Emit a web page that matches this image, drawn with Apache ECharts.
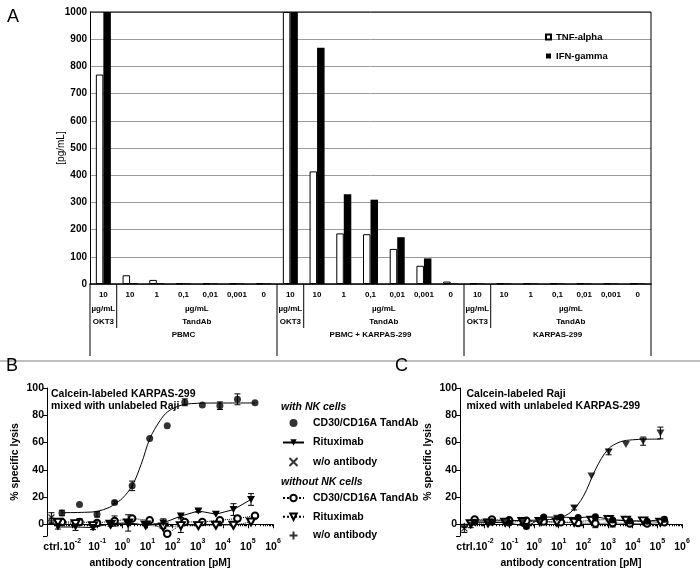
<!DOCTYPE html>
<html><head><meta charset="utf-8">
<script src="https://cdn.jsdelivr.net/npm/echarts@6/dist/echarts.min.js"></script>
<style>html,body{margin:0;padding:0;background:#fff}#c{width:700px;height:578px}</style>
</head><body><div id="c"></div>
<script>
// ---------- Panel A data ----------
const aConc = ['10','10','1','0,1','0,01','0,001','0','10','10','1','0,1','0,01','0,001','0','10','10','1','0,1','0,01','0,001','0'];
const aTnfAlpha = [770,32,15,2,2,2,2, 1000,414,186,183,129,67,9, 2,2,2,2,2,2,2];
const aIfnGamma = [1000,3,3,2,2,2,2, 1000,869,330,310,172,94,2, 2,2,2,2,2,2,2];
const aAntibody = ['OKT3','TandAb'];
const aAntibodyCount = [1,6];
const aUnit = 'µg/mL';
const aGroups = ['PBMC','PBMC + KARPAS-299','KARPAS-299'];

// ---------- Panels B / C data (concentrations in pM) ----------
const ctrlConc = 0.0015;
const tandConc = [0.00393,0.0197,0.0983,0.4915,2.458,12.29,61.44,307.2,1536,7680,38400,192000];
const ritConc  = [0.00273,0.01365,0.0683,0.3413,1.707,8.533,42.67,213.3,1067,5333,26667,133333];

// B: Calcein-labeled KARPAS-299 + unlabeled Raji
const bTandNK    = [8.3,14.5,7.3,16,28.2,63,72.3,89.5,87.5,87,91.7,89.2];
const bTandNKErr = [2,0,2,1,3.5,0,0,2.5,0,2.8,4,0];
const bRitNK     = [-2,-2,-2.4,0.5,1,-0.7,1,6,9.8,7.4,10.8,18.2];
const bRitNKErr  = [1.5,2.5,1.5,2,6,0.5,3,1,1,0.5,4.3,4.3];
const bTandNoNK    = [1.7,1.7,1,2.4,4.2,3,-7,1.7,1.7,3,4.2,6.3];
const bTandNoNKErr = [1,2.5,0.5,3.7,1.5,0.5,1.5,0.5,0.5,1,2,0.5];
const bRitNoNK    = [1.5,0.5,-1,0,1,-0.5,-2,-1,-1,-0.7,-0.7,1.7];
const bRitNoNKErr = [0.5,0.5,0.5,0.5,0.5,0.5,1,5,0.5,0.5,0.5,0.5];
const bCtrlNK = 5, bCtrlNKErr = 3.5, bCtrlNoNK = 2.5, bCtrlNoNKErr = 2;
const bFitX = [0.00393,0.0316,0.1,0.316,0.5,1,2.5,5.62,12.6,31.6,63.1,158,316,1000,10000,192000];
const bFitY = [8.5,8.8,9.5,12.5,15,19,28.5,44,63,76,82.5,86.5,88,88.8,89,89];

// C: Calcein-labeled Raji + unlabeled KARPAS-299
const cTandNK    = [1.5,1.5,1,-1.7,5.3,5.2,4.9,5.6,3.2,2.4,2.2,3.7];
const cTandNKErr = [1,1,1,1,1,1,1,1,1,1,1,1.5];
const cRitNK     = [-0.5,1.5,1,1.5,2.5,4.5,12,35.5,53,58.5,61,67];
const cRitNKErr  = [2,1,1,1,1,1,1.5,0.5,2,0.5,3,4.3];
const cTandNoNK    = [3.5,3.5,3,2.5,2,1.5,1,0.5,1,0.5,0.5,1.5];
const cTandNoNKErr = [0.5,0.5,0.5,0.5,0.5,1,1,3,3,0.5,0.5,0.5];
const cRitNoNK    = [0.5,1,1.5,2,2,1.5,1.5,3,3.5,3,2.5,1.5];
const cRitNoNKErr = [0.5,0.5,0.5,0.5,0.5,0.5,0.5,1,1,0.5,0.5,0.5];
const cCtrlNK = -3, cCtrlNKErr = 3, cCtrlNoNK = -1.5, cCtrlNoNKErr = 1;
const cFitX = [0.00273,0.1,1,3.16,10,31.6,100,316,1000,3160,10000,31600,133333];
const cFitY = [2.5,2.6,3.0,3.3,4.6,9.0,20.5,40.5,55,60.5,62,62.4,62.5];

// ---------- helpers ----------
const F = '"Liberation Sans", Arial, sans-serif';
const pts = (xs, ys) => xs.map((x, i) => [x, ys[i]]);
const N1 = 'CD30/CD16A TandAb', N2 = 'Rituximab', N3 = 'w/o antibody', Z = '\u200b';
const cross = 'path://M0,0L10,10M10,0L0,10';
const plus = 'path://M5,0L5,10M0,5L10,5';
const blk = '#000';

function errSeries(ax, xs, ys, es) {
  const data = [];
  xs.forEach((x, i) => { if (es[i] > 0.9) data.push([x, ys[i] - es[i], ys[i] + es[i]]); });
  return {
    type: 'custom', xAxisIndex: ax, yAxisIndex: ax, silent: true, z: 3, data,
    encode: { x: 0, y: [1, 2] },
    renderItem: (p, api) => {
      const x = api.value(0);
      const lo = api.coord([x, api.value(1)]), hi = api.coord([x, api.value(2)]);
      const w = 3, st = { stroke: blk, lineWidth: 1 };
      return { type: 'group', children: [
        { type: 'line', shape: { x1: lo[0], y1: lo[1], x2: hi[0], y2: hi[1] }, style: st },
        { type: 'line', shape: { x1: lo[0] - w, y1: lo[1], x2: lo[0] + w, y2: lo[1] }, style: st },
        { type: 'line', shape: { x1: hi[0] - w, y1: hi[1], x2: hi[0] + w, y2: hi[1] }, style: st }
      ]};
    }
  };
}

function panel(ax, d) {
  const s = [];
  s.push({ name: '_fit' + ax, type: 'line', xAxisIndex: ax, yAxisIndex: ax, data: pts(d.fitX, d.fitY),
    smooth: 0.35, showSymbol: false, silent: true, lineStyle: { color: blk, width: 1 }, z: 2 });
  // with NK cells
  s.push(d.tandFit
    ? { name: N1, type: 'scatter', xAxisIndex: ax, yAxisIndex: ax, data: pts(tandConc, d.tandNK), symbol: 'circle', symbolSize: 7, itemStyle: { color: blk }, z: 5 }
    : { name: N1, type: 'line', xAxisIndex: ax, yAxisIndex: ax, data: pts(tandConc, d.tandNK), symbol: 'circle', symbolSize: 7, itemStyle: { color: blk }, lineStyle: { color: blk, width: 1 }, z: 5 });
  s.push(d.tandFit
    ? { name: N2, type: 'line', xAxisIndex: ax, yAxisIndex: ax, data: pts(ritConc, d.ritNK), symbol: 'triangle', symbolRotate: 180, symbolSize: [8, 7], itemStyle: { color: blk }, lineStyle: { color: blk, width: 1 }, z: 5 }
    : { name: N2, type: 'scatter', xAxisIndex: ax, yAxisIndex: ax, data: pts(ritConc, d.ritNK), symbol: 'triangle', symbolRotate: 180, symbolSize: [8, 7], itemStyle: { color: blk }, z: 5 });
  s.push({ name: N3, type: 'scatter', xAxisIndex: ax, yAxisIndex: ax, data: [[ctrlConc, d.ctrlNK]], symbol: cross, symbolSize: 6,
    itemStyle: { color: blk, borderColor: blk, borderWidth: 1.2 }, z: 5 });
  // without NK cells
  s.push({ name: N1 + Z, type: 'line', xAxisIndex: ax, yAxisIndex: ax, data: pts(tandConc, d.tandNoNK), symbol: 'emptyCircle', symbolSize: 6.5,
    itemStyle: { color: blk, borderWidth: 1 }, lineStyle: { color: blk, width: 1, type: 'dotted' }, z: 4 });
  s.push({ name: N2 + Z, type: 'line', xAxisIndex: ax, yAxisIndex: ax, data: pts(ritConc, d.ritNoNK), symbol: 'emptyTriangle', symbolRotate: 180, symbolSize: [8, 7],
    itemStyle: { color: blk, borderWidth: 1 }, lineStyle: { color: blk, width: 1, type: 'dotted' }, z: 4 });
  s.push({ name: N3 + Z, type: 'scatter', xAxisIndex: ax, yAxisIndex: ax, data: [[ctrlConc, d.ctrlNoNK]], symbol: plus, symbolSize: 7,
    itemStyle: { color: blk, borderColor: blk, borderWidth: 1.2 }, z: 5 });
  // error bars
  s.push(errSeries(ax, tandConc, d.tandNK, d.tandNKErr));
  s.push(errSeries(ax, ritConc, d.ritNK, d.ritNKErr));
  s.push(errSeries(ax, tandConc, d.tandNoNK, d.tandNoNKErr));
  s.push(errSeries(ax, ritConc, d.ritNoNK, d.ritNoNKErr));
  s.push(errSeries(ax, [ctrlConc, ctrlConc], [d.ctrlNK, d.ctrlNoNK], [d.ctrlNKErr, d.ctrlNoNKErr]));
  return s;
}

const logX = (gi) => ({
  type: 'log', logBase: 10, gridIndex: gi, min: 0.001, max: 1000000,
  axisLine: { lineStyle: { color: blk, width: 1 } },
  axisTick: { length: 4, lineStyle: { color: blk } },
  minorTick: { show: true, splitNumber: 9, length: 2, lineStyle: { color: blk, width: 1 } },
  splitLine: { show: false },
  axisLabel: {
    margin: 2, color: blk,
    formatter: v => { const e = Math.round(Math.log10(v)); return e <= -3 ? '{c|ctrl.}' : '{b|10}{s|' + e + '}'; },
    rich: {
      b: { fontFamily: F, fontWeight: 'bold', fontSize: 10.5, color: blk, lineHeight: 15, verticalAlign: 'bottom' },
      s: { fontFamily: F, fontWeight: 'bold', fontSize: 7, color: blk, lineHeight: 9, verticalAlign: 'top' },
      c: { fontFamily: F, fontWeight: 'bold', fontSize: 10.5, color: blk, lineHeight: 15, verticalAlign: 'bottom', padding: [0, 0, 0, 12] }
    }
  },
  name: 'antibody concentration [pM]', nameLocation: 'middle', nameGap: 22, nameMoveOverlap: false,
  nameTextStyle: { fontFamily: F, fontWeight: 'bold', fontSize: 10.5, color: blk }
});
const pctY = (gi) => ({
  type: 'value', gridIndex: gi, min: -8.6, max: 100, splitNumber: 5,
  axisLine: { show: true, lineStyle: { color: blk, width: 1 } },
  axisTick: { show: true, length: 4, lineStyle: { color: blk } },
  splitLine: { show: false },
  axisLabel: { margin: 3, fontFamily: F, fontWeight: 'bold', fontSize: 10.5, color: blk,
    formatter: v => (Math.abs(v % 20) < 1e-6 ? String(v) : '') },
  name: '% specific lysis', nameLocation: 'middle', nameGap: 26, nameMoveOverlap: false,
  nameTextStyle: { fontFamily: F, fontWeight: 'bold', fontSize: 10.5, color: blk }
});

const legTxt = { fontFamily: F, fontWeight: 'bold', fontSize: 10.5, color: blk, lineHeight: 14, padding: [0, 0, 0, 4] };

const chart = echarts.init(document.getElementById('c'));
const option = {
  animation: false,
  backgroundColor: '#fff',
  grid: [
    { left: 90, top: 12, width: 561, height: 272 },
    { left: 47, top: 388, width: 226, height: 148 },
    { left: 460, top: 388, width: 222, height: 148 }
  ],
  xAxis: [
    { type: 'category', gridIndex: 0, data: aConc,
      axisLine: { lineStyle: { color: blk, width: 1.5 } },
      axisTick: { length: 17, lineStyle: { color: blk, width: 1 } },
      axisLabel: { interval: 0, margin: 7, fontFamily: F, fontWeight: 'bold', fontSize: 8, color: blk } },
    logX(1), logX(2)
  ],
  yAxis: [
    { type: 'value', gridIndex: 0, min: 0, max: 1000, interval: 100,
      axisLine: { show: true, lineStyle: { color: blk, width: 1 } },
      axisTick: { show: false },
      splitLine: { lineStyle: { color: '#9a9a9a', width: 1 } },
      axisLabel: { margin: 3, fontFamily: F, fontWeight: 'bold', fontSize: 10, color: blk, formatter: v => String(v) },
      name: '[pg/mL]', nameLocation: 'middle', nameGap: 24, nameMoveOverlap: false,
      nameTextStyle: { fontFamily: F, fontSize: 10, color: blk } },
    pctY(1), pctY(2)
  ],
  legend: [
    { data: ['TNF-alpha', 'IFN-gamma'], orient: 'vertical', left: 540, top: 26, icon: 'rect',
      itemWidth: 5, itemHeight: 5, itemGap: 7, selectedMode: false,
      textStyle: { fontFamily: F, fontWeight: 'bold', fontSize: 9.5, color: blk, lineHeight: 12 } },
    { data: [N1, N2, N3], orient: 'vertical', left: 277, top: 411, itemWidth: 21, itemHeight: 8, itemGap: 5.5, selectedMode: false,
      formatter: n => n.replace(Z, ''), textStyle: legTxt },
    { data: [N1 + Z, N2 + Z, N3 + Z],
      orient: 'vertical', left: 277, top: 486, itemWidth: 21, itemHeight: 8, itemGap: 4.7, selectedMode: false,
      formatter: n => n.replace(Z, ''), textStyle: legTxt }
  ],
  series: [
    { name: 'TNF-alpha', type: 'bar', xAxisIndex: 0, yAxisIndex: 0, data: aTnfAlpha, barWidth: 7.5, barGap: '0%',
      itemStyle: { color: '#fff', borderColor: blk, borderWidth: 1 } },
    { name: 'IFN-gamma', type: 'bar', xAxisIndex: 0, yAxisIndex: 0, data: aIfnGamma, barWidth: 7.5, barGap: '0%',
      itemStyle: { color: blk } },
    ...panel(1, { tandFit: true, fitX: bFitX, fitY: bFitY, tandNK: bTandNK, tandNKErr: bTandNKErr, ritNK: bRitNK, ritNKErr: bRitNKErr,
      tandNoNK: bTandNoNK, tandNoNKErr: bTandNoNKErr, ritNoNK: bRitNoNK, ritNoNKErr: bRitNoNKErr,
      ctrlNK: bCtrlNK, ctrlNKErr: bCtrlNKErr, ctrlNoNK: bCtrlNoNK, ctrlNoNKErr: bCtrlNoNKErr }),
    ...panel(2, { tandFit: false, fitX: cFitX, fitY: cFitY, tandNK: cTandNK, tandNKErr: cTandNKErr, ritNK: cRitNK, ritNKErr: cRitNKErr,
      tandNoNK: cTandNoNK, tandNoNKErr: cTandNoNKErr, ritNoNK: cRitNoNK, ritNoNKErr: cRitNoNKErr,
      ctrlNK: cCtrlNK, ctrlNKErr: cCtrlNKErr, ctrlNoNK: cCtrlNoNK, ctrlNoNKErr: cCtrlNoNKErr })
  ]
};
chart.setOption(option);

// ---------- decorations computed from the axes ----------
const g = [];
const txt = (x, y, t, font, align) => ({ type: 'text', x, y, silent: true,
  style: { text: t, font, fill: blk, align: align || 'center', verticalAlign: 'middle' } });
const ln = (x1, y1, x2, y2, w, c) => ({ type: 'line', silent: true, shape: { x1, y1, x2, y2 }, style: { stroke: c || blk, lineWidth: w || 1 } });

const y0 = chart.convertToPixel({ yAxisIndex: 0 }, 0);
const yTop = chart.convertToPixel({ yAxisIndex: 0 }, 1000);
const c0 = chart.convertToPixel({ xAxisIndex: 0 }, 0);
const band = chart.convertToPixel({ xAxisIndex: 0 }, 1) - c0;
const bx = k => c0 - band / 2 + k * band;
const nCat = aConc.length;
// plot frame: top and right borders
g.push(ln(bx(0), yTop, bx(nCat), yTop, 1));
g.push(ln(bx(nCat), yTop, bx(nCat), y0, 1));
const perGroup = aAntibodyCount.reduce((a, b) => a + b, 0);
const fb = 'bold 8px ' + F;
aGroups.forEach((name, gi) => {
  const start = gi * perGroup;
  let k = start;
  aAntibody.forEach((ab, ai) => {
    const n = aAntibodyCount[ai];
    const cx = (bx(k) + bx(k + n)) / 2;
    g.push(txt(cx, y0 + 25, aUnit, fb));
    g.push(txt(cx, y0 + 38, ab, fb));
    if (ai > 0) g.push(ln(bx(k), y0, bx(k), y0 + 44, 1));
    k += n;
  });
  g.push(txt((bx(start) + bx(start + perGroup)) / 2, y0 + 51, name, fb));
  g.push(ln(bx(start), y0, bx(start), y0 + 72, 1));
});
g.push(ln(bx(nCat), y0, bx(nCat), y0 + 72, 1));
// horizontal separator between A and B/C
g.push(ln(0, 361, 700, 361, 1.5, '#a8a8a8'));
// panel letters
g.push(txt(7, 17, 'A', '18px ' + F, 'left'));
g.push(txt(6, 366, 'B', '18px ' + F, 'left'));
g.push(txt(395, 366, 'C', '18px ' + F, 'left'));
// in-plot annotations
const fa = 'bold 10.5px ' + F;
g.push({ type: 'text', x: 51, y: 388.5, silent: true, style: { text: 'Calcein-labeled KARPAS-299\nmixed with unlabeled Raji', font: fa, fill: blk, lineHeight: 11.5 } });
g.push({ type: 'text', x: 466.5, y: 388.5, silent: true, style: { text: 'Calcein-labeled Raji\nmixed with unlabeled KARPAS-299', font: fa, fill: blk, lineHeight: 11.5 } });
g.push(txt(281, 407, 'with NK cells', 'italic bold 10.5px ' + F, 'left'));
g.push(txt(281, 482, 'without NK cells', 'italic bold 10.5px ' + F, 'left'));
chart.setOption({ graphic: g });
</script></body></html>
